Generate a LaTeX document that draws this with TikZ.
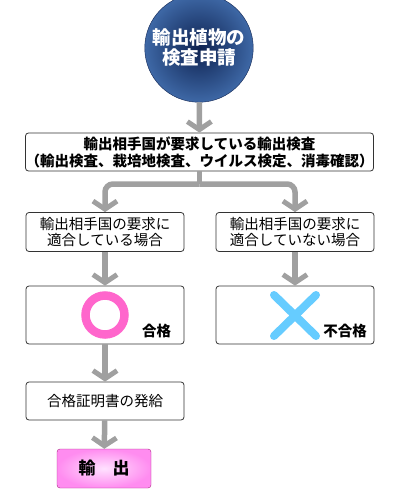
\documentclass[tikz,border=0pt]{standalone}
\usepackage{fontspec}
\setmainfont{Noto Sans CJK JP}
\usetikzlibrary{positioning,arrows.meta,calc}

\definecolor{navy}{RGB}{14,34,80}
\definecolor{navyedge}{RGB}{62,104,166}
\definecolor{flowgray}{RGB}{160,160,160}
\definecolor{ringpink}{RGB}{255,102,204}
\definecolor{crossblue}{RGB}{102,204,255}
\definecolor{exppink}{RGB}{255,140,240}
\definecolor{explight}{RGB}{255,225,255}
\definecolor{expline}{RGB}{170,40,130}

\begin{document}
\begin{tikzpicture}[x=1pt, y=-1pt,
  box/.style={draw=black!80, rounded corners=3pt, fill=white, line width=0.8pt,
    align=center, inner sep=0pt, minimum width=158pt,
    font=\fontsize{14.5}{16.5}\selectfont},
  flow/.style={draw=flowgray, line width=5.5pt,
    -{Straight Barb[length=8pt, width=24pt, line width=5pt]}},
  verdict/.style={font=\fontsize{14.5}{16}\selectfont\bfseries, inner sep=0pt}]
  \useasboundingbox (0,0) rectangle (400,500);

  % nodes
  \node[circle, minimum size=98pt, draw=navy, shading=radial,
    inner color=navy, outer color=navyedge, text=white, align=center,
    font=\fontsize{18.5}{20}\selectfont\bfseries] (apply) at (199,48)
    {輸出植物の\\検査申請};
  \node[box, minimum width=347pt, minimum height=38pt,
    font=\fontsize{14.5}{17}\selectfont\bfseries] (req) at (199.5,152)
    {輸出相手国が要求している輸出検査\\（輸出検査、栽培地検査、ウイルス検定、消毒確認）};
  \coordinate (fork) at (199.5,184);
  \node[box, minimum height=39pt] (ok) at (105,232)
    {輸出相手国の要求に\\適合している場合};
  \node[box, minimum height=39pt] (ng) at (295,232)
    {輸出相手国の要求に\\適合していない場合};
  \node[box, minimum height=58pt] (pass) at (105,315) {};
  \node[box, minimum height=58pt] (fail) at (295,315) {};
  \node[verdict] (passlbl) at (156.5,331) {合格};
  \node[verdict] (faillbl) at (345,331) {不合格};
  \node[box, minimum height=38pt] (cert) at (105,401) {合格証明書の発給};
  \node[draw=expline, rounded corners=3pt, shading=radial, inner color=explight,
    outer color=exppink, minimum width=94pt, minimum height=39pt,
    font=\fontsize{17}{18}\selectfont\bfseries] (exp) at (104,468.5) {輸　出};

  % marks
  \draw[ringpink, line width=8.5pt] (pass.center) circle[radius=19.5pt];
  \draw[crossblue, line width=8pt, line cap=round]
    ($(fail.center)+(-21,-20)$) -- ($(fail.center)+(21,21)$)
    ($(fail.center)+(21,-20)$) -- ($(fail.center)+(-21,21)$);

  % connectors
  \draw[flow] (apply) -- (req);
  \draw[draw=flowgray, line width=5.5pt] (req.south) -- (fork);
  \draw[flow, rounded corners=8pt] (fork) -| (ok.north);
  \draw[flow, rounded corners=8pt] (fork) -| (ng.north);
  \draw[flow] (ok) -- (pass);
  \draw[flow] (ng) -- (fail);
  \draw[flow] (pass) -- (cert);
  \draw[flow] (cert) -- (exp);
\end{tikzpicture}
\end{document}
